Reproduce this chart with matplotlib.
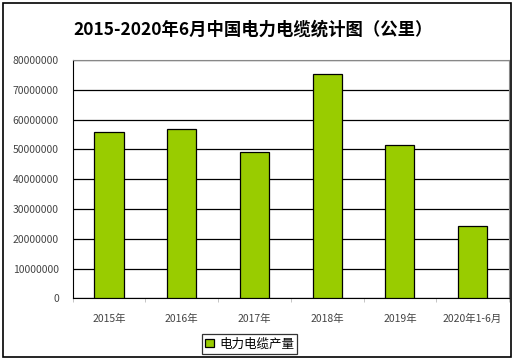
import matplotlib
matplotlib.use("Agg")
from matplotlib import pyplot as plt
from matplotlib.patches import Rectangle
import numpy as np

plt.rcParams['font.family'] = ['Noto Sans CJK SC', 'DejaVu Sans']

years = ['2015年', '2016年', '2017年', '2018年', '2019年', '2020年1-6月']
output = [55700000, 56800000, 49100000, 75300000, 51500000, 24300000]
yticks = list(range(0, 80000001, 10000000))

fig = plt.figure(figsize=(5.24, 3.62), dpi=100)
ax = fig.add_axes([0.1387, 0.176, 0.8327, 0.658])

x = np.arange(len(years))
ax.bar(x, output, width=0.4, color='#99cc00', edgecolor='black', linewidth=0.9,
       label='电力电缆产量', zorder=3)

ax.set_xlim(-0.5, len(years) - 0.5)
ax.set_ylim(0, 80000000)
ax.set_yticks(yticks)
ax.set_yticklabels([str(v) for v in yticks], fontsize=7.5, color='#444444')
ax.set_xticks(x)
ax.set_xticklabels(years, fontsize=7.5, color='#444444')
ax.set_xticks(np.arange(len(years) + 1) - 0.5, minor=True)
ax.tick_params(axis='x', which='major', length=0, pad=11)
ax.tick_params(axis='x', which='minor', length=3, color='#bbbbbb', direction='out')
ax.tick_params(axis='y', length=0, pad=10)
ax.grid(axis='y', color='black', linewidth=0.9, zorder=0)

ax.spines['top'].set_color('#888888')
ax.spines['right'].set_color('#888888')
ax.spines['left'].set_color('black')
ax.spines['bottom'].set_color('black')

fig.text(0.483, 0.917, '2015-2020年6月中国电力电缆统计图（公里）', ha='center', va='center',
         fontsize=12.5, fontweight='bold')

leg = ax.legend(loc='upper center', bbox_to_anchor=(0.406, -0.125), fontsize=9,
                frameon=True, fancybox=False, edgecolor='black', handlelength=0.7,
                handleheight=0.7, borderpad=0.25, handletextpad=0.4)
leg.get_frame().set_linewidth(0.9)

fig.patches.append(Rectangle((3 / 524, 5 / 362), 508 / 524, 354 / 362, transform=fig.transFigure,
                             fill=False, edgecolor='black', linewidth=1.2))

fig.savefig('out.png', dpi=100)
